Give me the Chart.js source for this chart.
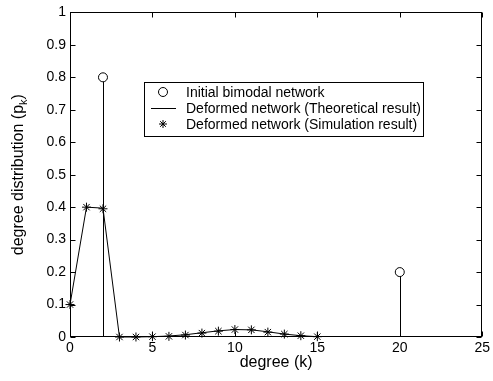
<!DOCTYPE html>
<html>
<head>
<meta charset="utf-8">
<script src="https://cdn.jsdelivr.net/npm/chart.js@4/dist/chart.umd.min.js"></script>
<style>
    html, body { margin: 0; padding: 0; background: #fff; }
    #wrap { width: 493px; height: 381px; position: relative; }
</style>
</head>
<body>
<div id="wrap"><canvas id="chart" width="493" height="381"></canvas></div>
<script>
// Data
const degrees = [0, 1, 2, 3, 4, 5, 6, 7, 8, 9, 10, 11, 12, 13, 14, 15];
const theoretical = [0.1, 0.4, 0.397, 0, 0, 0.001, 0.003, 0.007, 0.013, 0.019, 0.023, 0.022, 0.016, 0.009, 0.004, 0.001];
const simulation = [0.1, 0.4, 0.395, 0, 0, 0.001, 0.002, 0.006, 0.012, 0.018, 0.023, 0.022, 0.015, 0.009, 0.004, 0.001];
const initialDegrees = [2, 20];
const initialValues = [0.8, 0.2];
const xTicks = [0, 5, 10, 15, 20, 25];
const yTicks = [0, 0.1, 0.2, 0.3, 0.4, 0.5, 0.6, 0.7, 0.8, 0.9, 1];
const seriesLabels = [
    'Initial bimodal network',
    'Deformed network (Theoretical result)',
    'Deformed network (Simulation result)'
];

const FONT = 'Liberation Sans, Arial, Helvetica, sans-serif';
const toPoints = (xs, ys) => xs.map((x, i) => ({ x: x, y: ys[i] }));

// stems for the initial network (vertical line from 0 up to each circle)
const stemPlugin = {
    id: 'stems',
    beforeDatasetsDraw(chart) {
        const ctx = chart.ctx;
        const xs = chart.scales.x, ys = chart.scales.y;
        ctx.save();
        ctx.strokeStyle = '#000';
        ctx.lineWidth = 1;
        initialDegrees.forEach((d, i) => {
            const px = Math.round(xs.getPixelForValue(d)) + 0.5;
            ctx.beginPath();
            ctx.moveTo(px, ys.getPixelForValue(0));
            ctx.lineTo(px, ys.getPixelForValue(initialValues[i]) + 4.5);
            ctx.stroke();
        });
        ctx.restore();
    }
};

// MATLAB style box, inward ticks, axis titles and legend
const framePlugin = {
    id: 'frame',
    afterDraw(chart) {
        const ctx = chart.ctx;
        const a = chart.chartArea;
        const xs = chart.scales.x, ys = chart.scales.y;
        const tick = 5;
        ctx.save();
        ctx.strokeStyle = '#000';
        ctx.lineWidth = 1;
        const L = Math.round(a.left) + 0.5, R = Math.round(a.right) - 0.5;
        const T = Math.round(a.top) + 0.5, B = Math.round(a.bottom) - 0.5;
        ctx.strokeRect(L, T, R - L, B - T);
        ctx.beginPath();
        xTicks.forEach(v => {
            const px = Math.round(xs.getPixelForValue(v)) + 0.5;
            ctx.moveTo(px, B); ctx.lineTo(px, B - tick);
            ctx.moveTo(px, T); ctx.lineTo(px, T + tick);
        });
        yTicks.forEach(v => {
            const py = Math.round(ys.getPixelForValue(v)) + 0.5;
            ctx.moveTo(L, py); ctx.lineTo(L + tick, py);
            ctx.moveTo(R, py); ctx.lineTo(R - tick, py);
        });
        ctx.stroke();

        // axis titles
        const TS = 16;
        ctx.fillStyle = '#000';
        ctx.font = TS + 'px ' + FONT;
        ctx.textAlign = 'center';
        ctx.textBaseline = 'alphabetic';
        ctx.fillText('degree (k)', (a.left + a.right) / 2, 367);

        ctx.save();
        ctx.translate(23, (a.top + a.bottom) / 2);
        ctx.rotate(-Math.PI / 2);
        const main = 'degree distribution (p';
        ctx.font = TS + 'px ' + FONT;
        const w1 = ctx.measureText(main).width;
        ctx.font = '11px ' + FONT;
        const w2 = ctx.measureText('k').width;
        ctx.font = TS + 'px ' + FONT;
        const w3 = ctx.measureText(')').width;
        let x0 = -(w1 + w2 + w3) / 2;
        ctx.textAlign = 'left';
        ctx.fillText(main, x0, 0);
        ctx.font = '11px ' + FONT;
        ctx.fillText('k', x0 + w1, 4);
        ctx.font = TS + 'px ' + FONT;
        ctx.fillText(')', x0 + w1 + w2, 0);
        ctx.restore();

        // legend
        const box = { x: 144.5, y: 82.5, w: 279, h: 54 };
        ctx.fillStyle = '#fff';
        ctx.fillRect(box.x, box.y, box.w, box.h);
        ctx.strokeRect(box.x, box.y, box.w, box.h);
        const rowY = [92, 108, 124];
        const mx = 163;
        ctx.fillStyle = '#000';
        ctx.font = '14px ' + FONT;
        ctx.textAlign = 'left';
        ctx.textBaseline = 'middle';
        seriesLabels.forEach((t, i) => ctx.fillText(t, 186, rowY[i] + 1));
        // circle
        ctx.beginPath();
        ctx.arc(mx, rowY[0], 4.5, 0, Math.PI * 2);
        ctx.stroke();
        // line
        ctx.beginPath();
        ctx.moveTo(151, rowY[1] + 0.5); ctx.lineTo(176, rowY[1] + 0.5);
        ctx.stroke();
        // asterisk
        ctx.beginPath();
        const r = 4;
        ctx.moveTo(mx - r, rowY[2]); ctx.lineTo(mx + r, rowY[2]);
        ctx.moveTo(mx, rowY[2] - r); ctx.lineTo(mx, rowY[2] + r);
        const d = r * 0.707;
        ctx.moveTo(mx - d, rowY[2] - d); ctx.lineTo(mx + d, rowY[2] + d);
        ctx.moveTo(mx - d, rowY[2] + d); ctx.lineTo(mx + d, rowY[2] - d);
        ctx.stroke();
        ctx.restore();
    }
};

const fmtY = v => (v === 0 || v === 1) ? String(v) : v.toFixed(1);

const chart = new Chart(document.getElementById('chart'), {
    type: 'scatter',
    data: {
        datasets: [
            {
                label: seriesLabels[0],
                data: toPoints(initialDegrees, initialValues),
                showLine: false,
                pointStyle: 'circle',
                pointRadius: 4.5,
                pointBorderColor: '#000',
                pointBackgroundColor: '#fff',
                pointBorderWidth: 1
            },
            {
                label: seriesLabels[1],
                data: toPoints(degrees, theoretical),
                showLine: true,
                borderColor: '#000',
                borderWidth: 1,
                pointRadius: 0,
                tension: 0
            },
            {
                label: seriesLabels[2],
                data: toPoints(degrees, simulation),
                showLine: false,
                pointStyle: 'star',
                pointRadius: 4.5,
                pointBorderColor: '#000',
                pointBorderWidth: 1
            }
        ]
    },
    options: {
        responsive: false,
        animation: false,
        clip: false,
        layout: { padding: { top: 9, right: 7, left: 0, bottom: 0 } },
        plugins: {
            legend: { display: false },
            tooltip: { enabled: false }
        },
        scales: {
            x: {
                type: 'linear',
                min: 0,
                max: 25,
                afterFit: s => { s.height = 44; },
                afterBuildTicks: s => { s.ticks = xTicks.map(v => ({ value: v })); },
                grid: { display: false, drawTicks: false },
                border: { display: false },
                ticks: { color: '#000', padding: 3, font: { family: FONT, size: 14 } }
            },
            y: {
                type: 'linear',
                min: 0,
                max: 1,
                afterFit: s => { s.width = 70; },
                afterBuildTicks: s => { s.ticks = yTicks.map(v => ({ value: v })); },
                grid: { display: false, drawTicks: false },
                border: { display: false },
                ticks: { color: '#000', padding: 4, font: { family: FONT, size: 14 }, callback: fmtY }
            }
        }
    },
    plugins: [stemPlugin, framePlugin]
});
</script>
</body>
</html>
